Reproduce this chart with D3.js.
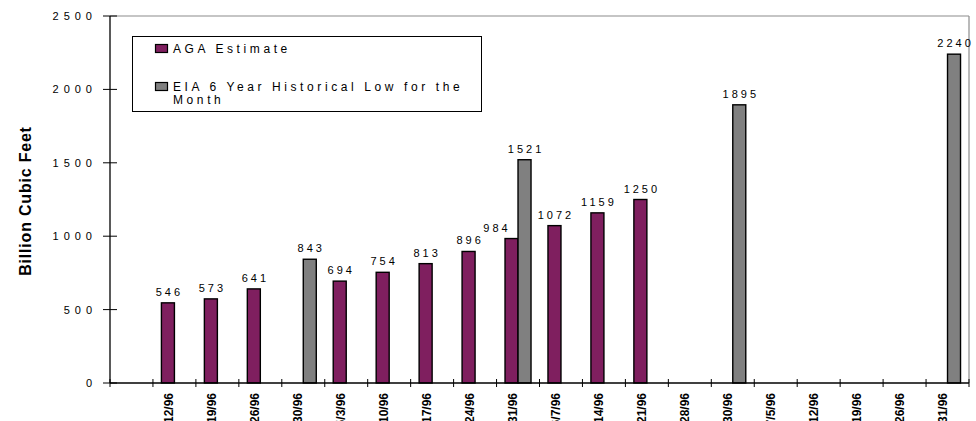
<!DOCTYPE html>
<html>
<head>
<meta charset="utf-8">
<script src="https://cdn.jsdelivr.net/npm/d3@7"></script>
<style>
  html, body { margin: 0; padding: 0; background: #fff; }
  svg { display: block; }
  text { font-family: Arial, "Liberation Sans", sans-serif; }
</style>
</head>
<body>
<div id="chart"></div>
<script>
const categories = ["", "4/12/96", "4/19/96", "4/26/96", "4/30/96", "5/3/96", "5/10/96", "5/17/96",
  "5/24/96", "5/31/96", "6/7/96", "6/14/96", "6/21/96", "6/28/96", "6/30/96", "7/5/96",
  "7/12/96", "7/19/96", "7/26/96", "7/31/96"];
const seriesNames = ["AGA Estimate", "EIA 6 Year Historical Low for the Month"];
const agaValues = [null, 546, 573, 641, null, 694, 754, 813, 896, 984, 1072, 1159, 1250,
  null, null, null, null, null, null, null];
const eiaValues = [null, null, null, null, 843, null, null, null, null, 1521, null, null, null,
  null, 1895, null, null, null, null, 2240];
const yTicks = [0, 500, 1000, 1500, 2000, 2500];
const yTitle = "Billion Cubic Feet";

(function () {
const W = 976, H = 421;
const pL = 110, pR = 969, pT = 16, pB = 383;
const colors = ["#7f1f5f", "#808080"];

const svg = d3.select("#chart").append("svg").attr("width", W).attr("height", H);

const x = d3.scaleBand().domain(categories.map((d, i) => i)).range([pL, pR]).padding(0);
const xs = d3.scaleBand().domain([0, 1]).range([0, x.bandwidth()]).paddingInner(0).paddingOuter(0.652);
const y = d3.scaleLinear().domain([0, 2500]).range([pB, pT]);

// plot border (top & right)
svg.append("line").attr("x1", pL).attr("x2", pR).attr("y1", pT).attr("y2", pT)
  .attr("stroke", "#8c8c8c").attr("stroke-width", 1.2);
svg.append("line").attr("x1", pR).attr("x2", pR).attr("y1", pT).attr("y2", pB)
  .attr("stroke", "#8c8c8c").attr("stroke-width", 1.2);

// bars
const series = [agaValues, eiaValues];
const LS = 3;
series.forEach((vals, s) => {
  const other = series[1 - s];
  const data = vals.map((v, i) => ({ i, v })).filter(d => d.v != null);
  svg.append("g").selectAll("rect").data(data).join("rect")
    .attr("x", d => x(d.i) + xs(s))
    .attr("y", d => y(d.v))
    .attr("width", xs.bandwidth())
    .attr("height", d => y(0) - y(d.v))
    .attr("fill", colors[s])
    .attr("stroke", "#000").attr("stroke-width", 1.4);
  svg.append("g").selectAll("text").data(data).join("text")
    .attr("x", d => {
      let cx = x(d.i) + xs(s) + xs.bandwidth() / 2 + LS / 2;
      // when the neighbouring (taller) bar is present, the label is pushed aside
      if (other[d.i] != null && other[d.i] > d.v) cx += (s === 0 ? -16 : 16);
      return cx;
    })
    .attr("y", d => y(d.v) - 7)
    .attr("text-anchor", "middle")
    .style("font-size", "11px").style("letter-spacing", LS + "px")
    .attr("fill", "#000")
    .text(d => d.v);
});

// y axis
svg.append("line").attr("x1", pL).attr("x2", pL).attr("y1", pT).attr("y2", pB)
  .attr("stroke", "#000").attr("stroke-width", 1.3);
const yg = svg.append("g");
yg.selectAll("line").data(yTicks).join("line")
  .attr("x1", pL - 7).attr("x2", pL + 7)
  .attr("y1", d => y(d)).attr("y2", d => y(d))
  .attr("stroke", "#000").attr("stroke-width", 1);
yg.selectAll("text").data(yTicks).join("text")
  .attr("x", 92 + 5).attr("y", d => y(d)).attr("dy", "0.36em")
  .attr("text-anchor", "end")
  .style("font-size", "11px").style("letter-spacing", "5px")
  .text(d => d);

svg.append("text")
  .attr("transform", `translate(31,201) rotate(-90)`)
  .attr("text-anchor", "middle")
  .style("font-size", "16px").style("font-weight", "bold").style("letter-spacing", "0.8px")
  .text(yTitle);

// x axis
svg.append("line").attr("x1", pL).attr("x2", pR).attr("y1", pB).attr("y2", pB)
  .attr("stroke", "#000").attr("stroke-width", 1.3);
const xTickPos = categories.map((d, i) => x(i)).concat([pR]);
svg.append("g").selectAll("line").data(xTickPos).join("line")
  .attr("x1", d => d).attr("x2", d => d)
  .attr("y1", pB - 4).attr("y2", pB + 4)
  .attr("stroke", "#000").attr("stroke-width", 1);
svg.append("g").selectAll("text").data(categories.map((c, i) => ({ c, i }))).join("text")
  .attr("transform", d => `translate(${x(d.i) + x.bandwidth() / 2 - 1},393) rotate(-90)`)
  .attr("text-anchor", "end")
  .style("font-size", "12px").style("font-weight", "bold")
  .text(d => d.c);

// legend
const lg = svg.append("g");
lg.append("rect").attr("x", 132.5).attr("y", 36.5).attr("width", 349).attr("height", 75)
  .attr("fill", "#fff").attr("stroke", "#000").attr("stroke-width", 1);
const legendItems = [
  { lines: ["AGA Estimate"], sy: 44, c: colors[0] },
  { lines: ["EIA 6 Year Historical Low for the", "Month"], sy: 82, c: colors[1] }
];
legendItems.forEach(it => {
  lg.append("rect").attr("x", 155.5).attr("y", it.sy + 0.5).attr("width", 12).attr("height", 8)
    .attr("fill", it.c).attr("stroke", "#000").attr("stroke-width", 1.2);
  it.lines.forEach((ln, k) => {
    lg.append("text").attr("x", 173).attr("y", it.sy + 9 + k * 13)
      .style("font-size", "12px").style("letter-spacing", "3.6px")
      .text(ln);
  });
});
})();
</script>
</body>
</html>
